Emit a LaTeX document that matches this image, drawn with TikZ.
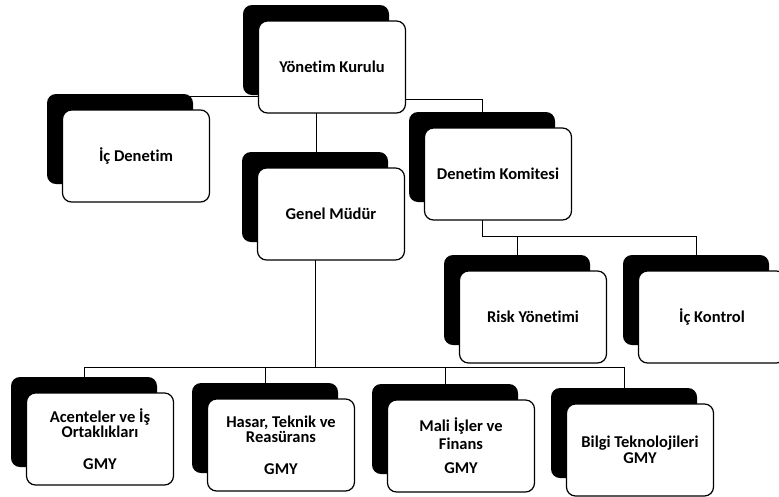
\documentclass[tikz,border=0pt]{standalone}
\usepackage{fontspec}
\setmainfont{Carlito}[Ligatures={NoCommon}]
\pgfdeclarelayer{bg}
\pgfsetlayers{bg,main}
\tikzset{
  shadowbox/.style={fill=black, rounded corners=9pt, minimum width=146pt, minimum height=90pt, inner sep=0pt},
  whitebox/.style={fill=white, draw=black, line width=1.2pt, rounded corners=9pt, minimum width=147pt, minimum height=92pt, align=center, inner sep=0pt, font=\bfseries\fontsize{16.5}{17}\selectfont},
  link/.style={draw=black, line width=0.9pt},
}
\newcommand\orgbox[4]{%
  \node[shadowbox] (#1s) at (#2,#3) {};
  \node[whitebox] (#1) at ([shift={(16pt,-17pt)}]#1s.center) {#4};
}
\begin{document}
\begin{tikzpicture}[x=1pt,y=-1pt]
\useasboundingbox (0,0) rectangle (779,496);
\clip (0,0) rectangle (779,496);
\orgbox{yk}{316}{50}{Yönetim Kurulu}
\orgbox{id}{120}{139}{İç Denetim}
\orgbox{gm}{315}{197}{Genel Müdür}
\orgbox{dk}{482}{157}{Denetim Komitesi}
\orgbox{ry}{517}{300}{Risk Yönetimi}
\orgbox{ik}{696}{300}{İç Kontrol}
\orgbox{ac}{84}{422}{Acenteler ve İş\\[-2pt]Ortaklıkları\\[15pt]GMY}
\orgbox{hs}{265}{428}{Hasar, Teknik ve\\[-2pt]Reasürans\\[15pt]GMY}
\orgbox{mf}{445}{429}{Mali İşler ve\\[1pt]Finans\\[7pt]GMY}
\orgbox{bt}{624}{433}{Bilgi Teknolojileri\\[-1pt]GMY}
\coordinate (r1) at (0,96);
\coordinate (r2) at (0,99);
\coordinate (b1) at (0,236);
\coordinate (b2) at (0,367);
\begin{pgfonlayer}{bg}
\draw[link] (yks.center |- r1) -| (ids.center);
\draw[link] (yks.center |- r2) -| (dks.center);
\draw[link] (yks.center) -- (yks.center |- gms.center);
\draw[link] (dks.center) -- (dks.center |- b1) -| (rys.center);
\draw[link] (dks.center |- b1) -| (iks.center);
\draw[link] (gms.center) -- (gms.center |- b2) -| (acs.center);
\draw[link] (gms.center |- b2) -| (hss.center);
\draw[link] (gms.center |- b2) -| (mfs.center);
\draw[link] (gms.center |- b2) -| (bts.center);
\end{pgfonlayer}
\end{tikzpicture}
\end{document}
